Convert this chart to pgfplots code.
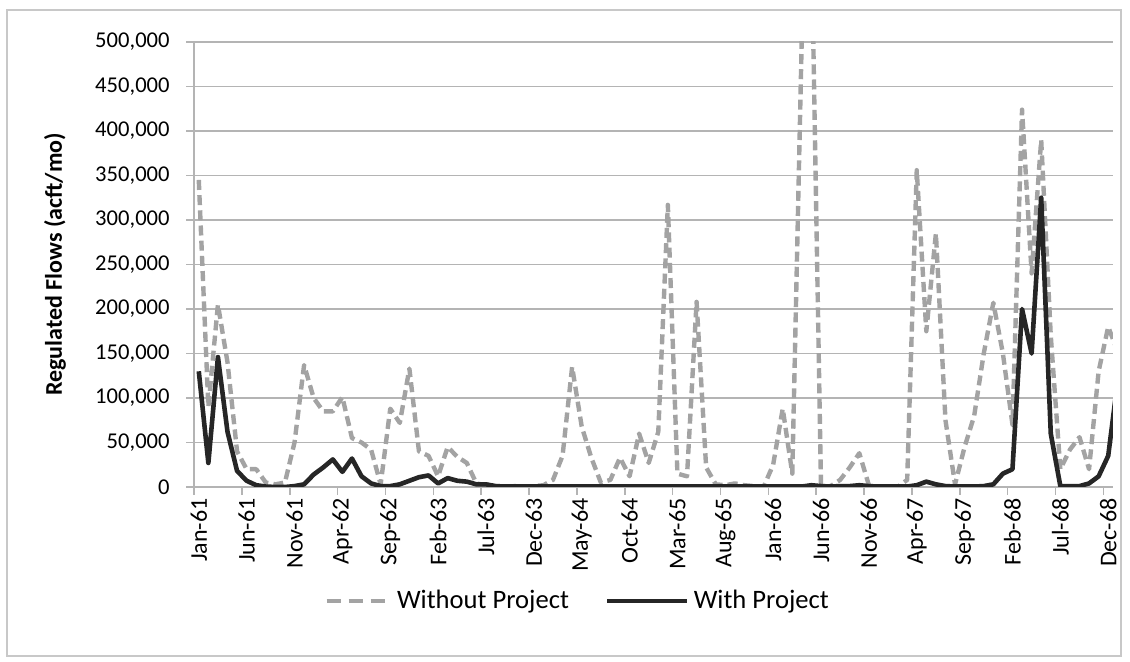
\documentclass[border=0pt]{standalone}
\usepackage{fontspec}
\setmainfont{Carlito}
\usepackage{pgfplots}
\usepackage{pgfplotstable}
\pgfplotsset{compat=1.18}
\definecolor{dashgray}{RGB}{163,163,163}
\definecolor{solidblk}{RGB}{38,38,38}
\definecolor{gridgray}{RGB}{180,180,180}
\definecolor{framegray}{RGB}{200,200,200}
% month index, without project, with project (acft/mo)
\pgfplotstableread{
i wo w
0 345000 130000
1 90000 27000
2 205000 146000
3 140000 62000
4 40000 18000
5 20000 7000
6 20000 2000
7 5000 500
8 3000 0
9 5000 0
10 50000 1000
11 137000 3000
12 100000 14000
13 85000 22000
14 85000 31000
15 101000 17000
16 55000 32000
17 50000 12000
18 42000 4000
19 3000 1000
20 88000 1000
21 72000 3000
22 133000 7000
23 40000 11000
24 35000 13000
25 12000 4000
26 45000 10000
27 34000 7000
28 27000 6000
29 4000 3000
30 2000 3000
31 1000 1000
32 0 500
33 1000 500
34 0 500
35 1000 500
36 2000 500
37 8000 500
38 35000 500
39 135000 500
40 68000 500
41 33000 500
42 5000 500
43 8000 500
44 33000 500
45 12000 500
46 60000 500
47 27000 500
48 62000 500
49 317000 500
50 15000 500
51 12000 500
52 208000 500
53 22000 500
54 3000 500
55 2000 500
56 4000 500
57 2000 500
58 1000 500
59 0 500
60 25000 500
61 88000 500
62 15000 500
63 510000 500
64 620000 2000
65 0 1000
66 1000 500
67 8000 1000
68 22000 1000
69 38000 2000
70 2000 1000
71 0 500
72 0 500
73 0 500
74 8000 500
75 356000 2000
76 175000 6000
77 285000 3000
78 75000 1000
79 3000 500
80 45000 500
81 80000 500
82 150000 1000
83 207000 3000
84 150000 15000
85 70000 20000
86 424000 200000
87 240000 150000
88 390000 325000
89 170000 60000
90 20000 1000
91 42000 1000
92 56000 1000
93 20000 4000
94 130000 12000
95 180000 35000
96 152000 120000
}\flows
\begin{document}
\begin{tikzpicture}
\useasboundingbox (0,0) rectangle (565pt,331pt);
\draw[framegray, line width=0.6pt] (3.5pt,3pt) rectangle (560.5pt,326pt);
\begin{axis}[
  at={(97pt,87.5pt)}, anchor=south west,
  scale only axis, width=459.5pt, height=222.5pt,
  xmin=-0.5, xmax=95.5, ymin=0, ymax=500000,
  axis x line*=bottom, axis y line*=left,
  axis line style={draw=gridgray, line width=0.8pt, -},
  ymajorgrids, grid style={gridgray, line width=0.7pt},
  tick align=outside, major tick length=4pt,
  tick style={draw=gridgray, line width=0.8pt},
  ytick={0,50000,...,500000},
  scaled y ticks=false,
  /pgf/number format/.cd, fixed, 1000 sep={,}, assume math mode=true, /pgfplots/.cd,
  yticklabel style={font=\fontsize{11.3}{13}\selectfont, anchor=east, inner sep=0pt, xshift=-8pt},
  xtick={-0.5,4.5,...,94.5},
  xticklabels={Jan-61,Jun-61,Nov-61,Apr-62,Sep-62,Feb-63,Jul-63,Dec-63,May-64,Oct-64,Mar-65,Aug-65,Jan-66,Jun-66,Nov-66,Apr-67,Sep-67,Feb-68,Jul-68,Dec-68},
  xticklabel style={font=\fontsize{12}{14}\selectfont, rotate=90, anchor=east, inner sep=0pt, yshift=-2.39pt, xshift=-1.5pt},
  every axis y label/.style={at={(axis description cs:-0.1513,0.5)}, rotate=90, anchor=center},
  ylabel={\fontsize{12}{14}\selectfont\bfseries Regulated Flows (acft/mo)},
  legend style={at={(axis description cs:0.4184,-0.256)}, anchor=center, draw=none, fill=none,
    legend columns=2, font=\fontsize{13.3}{15}\selectfont,
    /tikz/every even column/.append style={column sep=16pt}},
  legend cell align=left,
]
\addplot[dashgray, line width=2.2pt, dash pattern=on 5pt off 2.6pt, line join=round,
  legend image code/.code={\draw[dashgray, line width=2.4pt, dash pattern=on 7pt off 4pt] (0pt,0pt) -- (29pt,0pt);}]
  table[x=i, y=wo] {\flows};
\addlegendentry{\hspace{3pt}Without Project}
\addplot[solidblk, line width=2.3pt, line join=round,
  legend image code/.code={\draw[solidblk, line width=2.4pt] (0pt,0pt) -- (40pt,0pt);}]
  table[x=i, y=w] {\flows};
\addlegendentry{With Project}
\end{axis}
\end{tikzpicture}
\end{document}
